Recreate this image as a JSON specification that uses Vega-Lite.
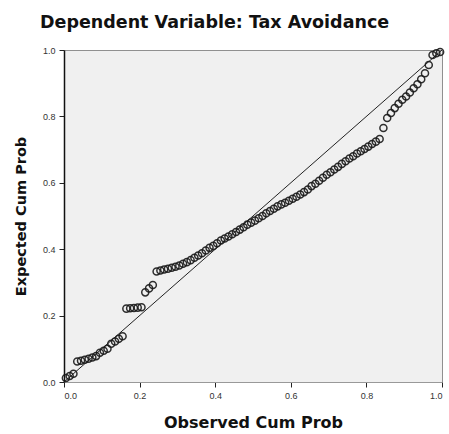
{
  "$schema": "https://vega.github.io/schema/vega-lite/v6.json",
  "autosize": "none",
  "width": 378,
  "height": 332,
  "padding": {"left": 64, "top": 50, "right": 7, "bottom": 52},
  "background": "white",
  "config": {
    "view": {"fill": "#f0f0f0", "stroke": "#909090", "strokeWidth": 1},
    "font": "Liberation Sans"
  },
  "title": {
    "text": "Dependent Variable: Tax Avoidance",
    "font": "DejaVu Sans",
    "fontSize": 17.5,
    "fontWeight": "bold",
    "color": "#111",
    "anchor": "start",
    "frame": "group",
    "dx": -24,
    "offset": 14
  },
  "datasets": {
    "pts": [
      {"obs": 0.005, "exp": 0.012}, {"obs": 0.015, "exp": 0.018}, {"obs": 0.025, "exp": 0.025}, {"obs": 0.035, "exp": 0.062},
      {"obs": 0.045, "exp": 0.064}, {"obs": 0.055, "exp": 0.067}, {"obs": 0.065, "exp": 0.07}, {"obs": 0.075, "exp": 0.074},
      {"obs": 0.085, "exp": 0.078}, {"obs": 0.095, "exp": 0.088}, {"obs": 0.105, "exp": 0.094}, {"obs": 0.115, "exp": 0.1},
      {"obs": 0.125, "exp": 0.115}, {"obs": 0.135, "exp": 0.122}, {"obs": 0.145, "exp": 0.13}, {"obs": 0.155, "exp": 0.138},
      {"obs": 0.165, "exp": 0.221}, {"obs": 0.175, "exp": 0.222}, {"obs": 0.185, "exp": 0.223}, {"obs": 0.195, "exp": 0.224},
      {"obs": 0.205, "exp": 0.225}, {"obs": 0.215, "exp": 0.27}, {"obs": 0.225, "exp": 0.282}, {"obs": 0.235, "exp": 0.292},
      {"obs": 0.245, "exp": 0.333}, {"obs": 0.255, "exp": 0.336}, {"obs": 0.265, "exp": 0.339}, {"obs": 0.275, "exp": 0.341},
      {"obs": 0.285, "exp": 0.344}, {"obs": 0.295, "exp": 0.347}, {"obs": 0.305, "exp": 0.351}, {"obs": 0.315, "exp": 0.356},
      {"obs": 0.325, "exp": 0.361}, {"obs": 0.335, "exp": 0.367}, {"obs": 0.345, "exp": 0.374}, {"obs": 0.355, "exp": 0.381},
      {"obs": 0.365, "exp": 0.388}, {"obs": 0.375, "exp": 0.396}, {"obs": 0.385, "exp": 0.404}, {"obs": 0.395, "exp": 0.41},
      {"obs": 0.405, "exp": 0.418}, {"obs": 0.415, "exp": 0.426}, {"obs": 0.425, "exp": 0.432}, {"obs": 0.435, "exp": 0.438},
      {"obs": 0.445, "exp": 0.445}, {"obs": 0.455, "exp": 0.452}, {"obs": 0.465, "exp": 0.459}, {"obs": 0.475, "exp": 0.466},
      {"obs": 0.485, "exp": 0.474}, {"obs": 0.495, "exp": 0.48}, {"obs": 0.505, "exp": 0.486}, {"obs": 0.515, "exp": 0.493},
      {"obs": 0.525, "exp": 0.5}, {"obs": 0.535, "exp": 0.508}, {"obs": 0.545, "exp": 0.515}, {"obs": 0.555, "exp": 0.522},
      {"obs": 0.565, "exp": 0.529}, {"obs": 0.575, "exp": 0.535}, {"obs": 0.585, "exp": 0.54}, {"obs": 0.595, "exp": 0.546},
      {"obs": 0.605, "exp": 0.552}, {"obs": 0.615, "exp": 0.558}, {"obs": 0.625, "exp": 0.565}, {"obs": 0.635, "exp": 0.572},
      {"obs": 0.645, "exp": 0.58}, {"obs": 0.655, "exp": 0.59}, {"obs": 0.665, "exp": 0.597}, {"obs": 0.675, "exp": 0.606},
      {"obs": 0.685, "exp": 0.615}, {"obs": 0.695, "exp": 0.624}, {"obs": 0.705, "exp": 0.632}, {"obs": 0.715, "exp": 0.64},
      {"obs": 0.725, "exp": 0.648}, {"obs": 0.735, "exp": 0.657}, {"obs": 0.745, "exp": 0.665}, {"obs": 0.755, "exp": 0.673},
      {"obs": 0.765, "exp": 0.68}, {"obs": 0.775, "exp": 0.688}, {"obs": 0.785, "exp": 0.695}, {"obs": 0.795, "exp": 0.702},
      {"obs": 0.805, "exp": 0.709}, {"obs": 0.815, "exp": 0.717}, {"obs": 0.825, "exp": 0.724}, {"obs": 0.835, "exp": 0.732},
      {"obs": 0.845, "exp": 0.765}, {"obs": 0.855, "exp": 0.795}, {"obs": 0.865, "exp": 0.81}, {"obs": 0.875, "exp": 0.825},
      {"obs": 0.885, "exp": 0.838}, {"obs": 0.895, "exp": 0.85}, {"obs": 0.905, "exp": 0.86}, {"obs": 0.915, "exp": 0.872},
      {"obs": 0.925, "exp": 0.885}, {"obs": 0.935, "exp": 0.897}, {"obs": 0.945, "exp": 0.912}, {"obs": 0.955, "exp": 0.93},
      {"obs": 0.965, "exp": 0.955}, {"obs": 0.975, "exp": 0.985}, {"obs": 0.985, "exp": 0.99}, {"obs": 0.995, "exp": 0.994}
    ],
    "ref": [{"obs": 0, "exp": 0}, {"obs": 1, "exp": 1}]
  },
  "encoding": {
    "x": {
      "field": "obs", "type": "quantitative",
      "scale": {"domain": [0, 1], "nice": false, "zero": false},
      "axis": {
        "title": "Observed Cum Prob",
        "titleFont": "DejaVu Sans", "titleFontSize": 16, "titleFontWeight": "bold", "titleColor": "#111",
        "titlePadding": 14,
        "values": [0, 0.2, 0.4, 0.6, 0.8, 1.0], "format": ".1f",
        "labelFontSize": 9, "labelColor": "#333", "labelPadding": 4,
        "tickSize": 5, "tickColor": "#222", "domainColor": "#999",
        "grid": false
      }
    },
    "y": {
      "field": "exp", "type": "quantitative",
      "scale": {"domain": [0, 1], "nice": false, "zero": false},
      "axis": {
        "title": "Expected Cum Prob",
        "titleFont": "DejaVu Sans", "titleFontSize": 14.5, "titleFontWeight": "bold", "titleColor": "#111",
        "titlePadding": 14,
        "values": [0, 0.2, 0.4, 0.6, 0.8, 1.0], "format": ".1f",
        "labelFontSize": 9, "labelColor": "#333", "labelPadding": 4,
        "tickSize": 5, "tickColor": "#222", "domainColor": "#111", "domainWidth": 1.5,
        "grid": false
      }
    }
  },
  "layer": [
    {
      "data": {"name": "ref"},
      "mark": {"type": "line", "color": "#222", "strokeWidth": 1, "clip": true}
    },
    {
      "data": {"name": "pts"},
      "mark": {"type": "point", "shape": "circle", "filled": false, "color": "#1a1a1a", "strokeWidth": 1.5, "size": 50, "opacity": 0.9}
    }
  ]
}
